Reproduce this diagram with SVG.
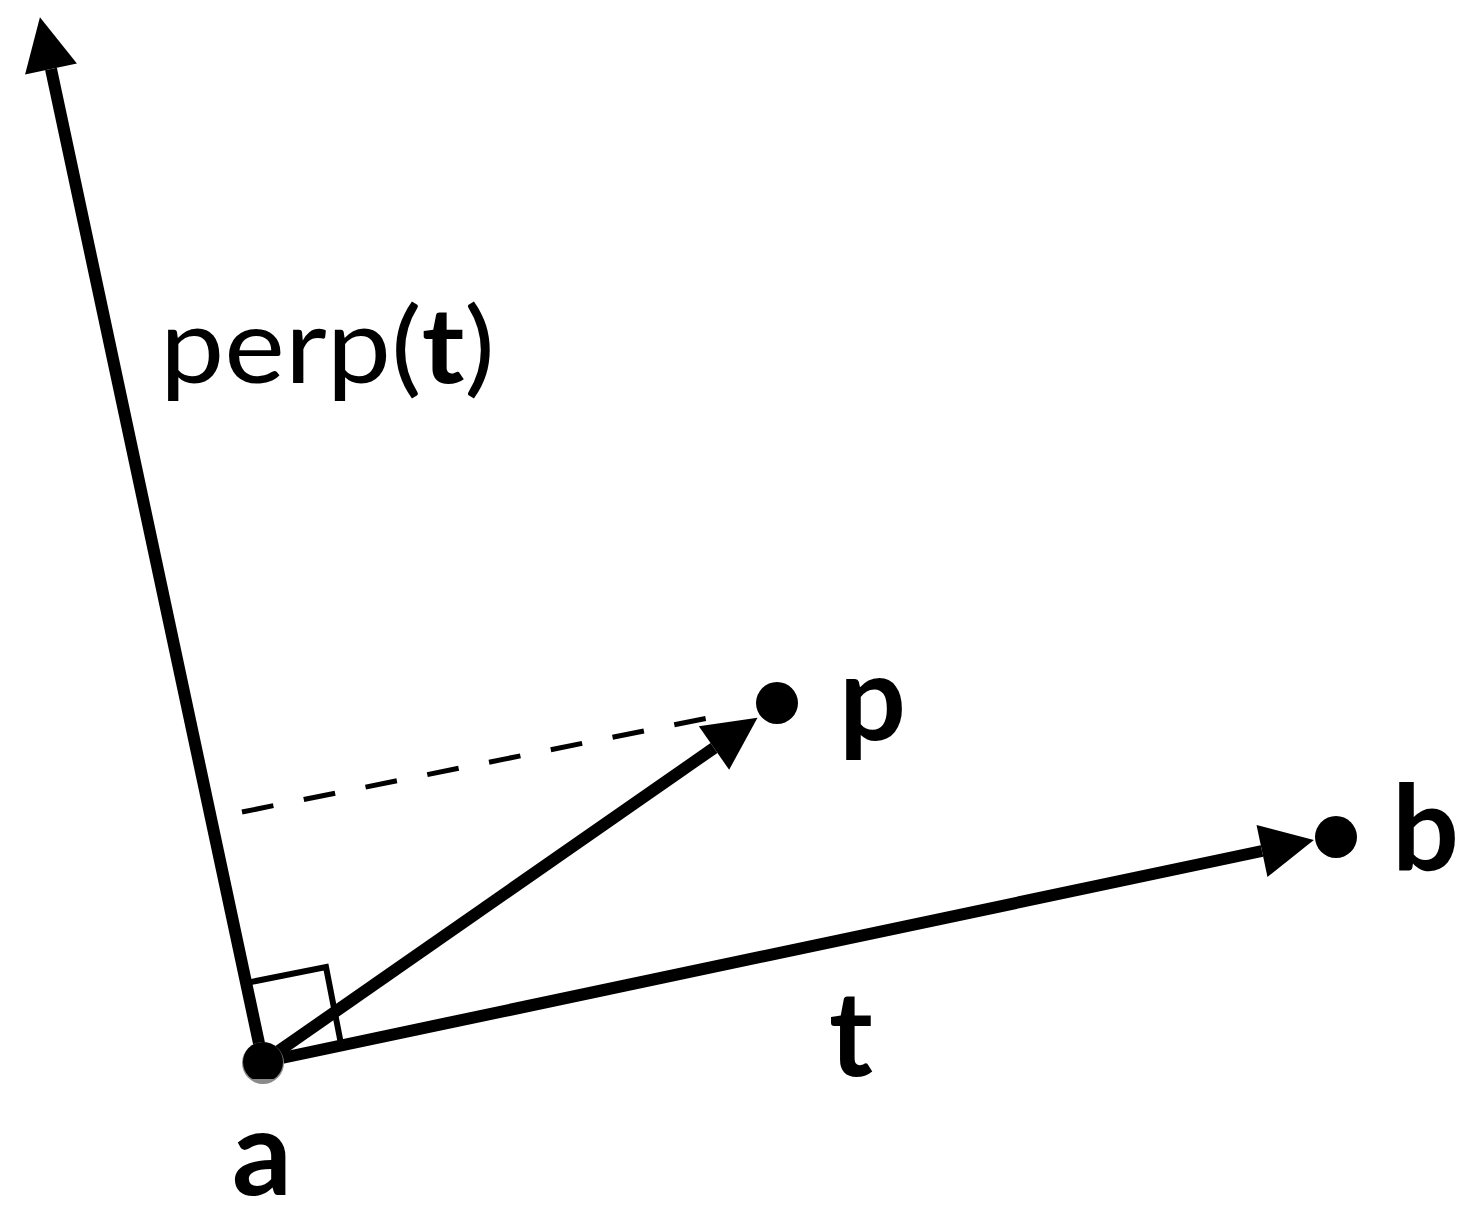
<svg xmlns="http://www.w3.org/2000/svg" width="1465" height="1205" viewBox="0 0 1465 1205">
<style>
.vec{stroke:#000;stroke-width:12;fill:none}
.thin{stroke:#000;stroke-width:6;fill:none}
.dash{stroke:#000;stroke-width:5;fill:none;stroke-dasharray:32 31}
.lbl{font-family:Lato,"Liberation Sans",sans-serif;font-weight:bold;font-size:118px;fill:#000}
.perp{font-family:Lato,"Liberation Sans",sans-serif;font-weight:normal;font-size:105px;fill:#000}
</style>
<defs>
<marker id="ah" markerUnits="userSpaceOnUse" markerWidth="54" markerHeight="54" refX="0" refY="26.5" orient="auto" overflow="visible">
<path d="M0,0 L53,26.5 L0,53 Z" fill="#000"/>
</marker>
<clipPath id="clipA"><rect x="0" y="0" width="1465" height="1079"/></clipPath>
</defs>
<rect width="1465" height="1205" fill="#fff"/>
<g id="connectors">
<line class="dash" x1="242" y1="812" x2="713" y2="717"/>
<polyline class="thin" points="246,983 326,967 341,1044"/>
<line class="vec" x1="263" y1="1062" x2="51" y2="69" marker-end="url(#ah)"/>
<line class="vec" x1="263" y1="1062" x2="714" y2="748" marker-end="url(#ah)"/>
<line class="vec" x1="263" y1="1062" x2="1262" y2="851" marker-end="url(#ah)"/>
</g>
<g id="node-a">
<circle cx="263" cy="1063" r="21" fill="#8a8a8a"/>
<circle cx="263" cy="1062" r="20" fill="#000" clip-path="url(#clipA)"/>
<text class="lbl" x="232" y="1195">a</text>
</g>
<g id="node-p">
<circle cx="777" cy="703" r="21" fill="#000"/>
<text class="lbl" x="839" y="740">p</text>
</g>
<g id="node-b">
<circle cx="1336" cy="837" r="21" fill="#000"/>
<text class="lbl" x="1392" y="870">b</text>
</g>
<g id="label-t">
<text class="lbl" x="829" y="1076">t</text>
</g>
<g id="label-perp">
<text class="perp" x="160" y="383" textLength="335" lengthAdjust="spacingAndGlyphs">perp(<tspan font-weight="bold">t</tspan>)</text>
</g>
</svg>
